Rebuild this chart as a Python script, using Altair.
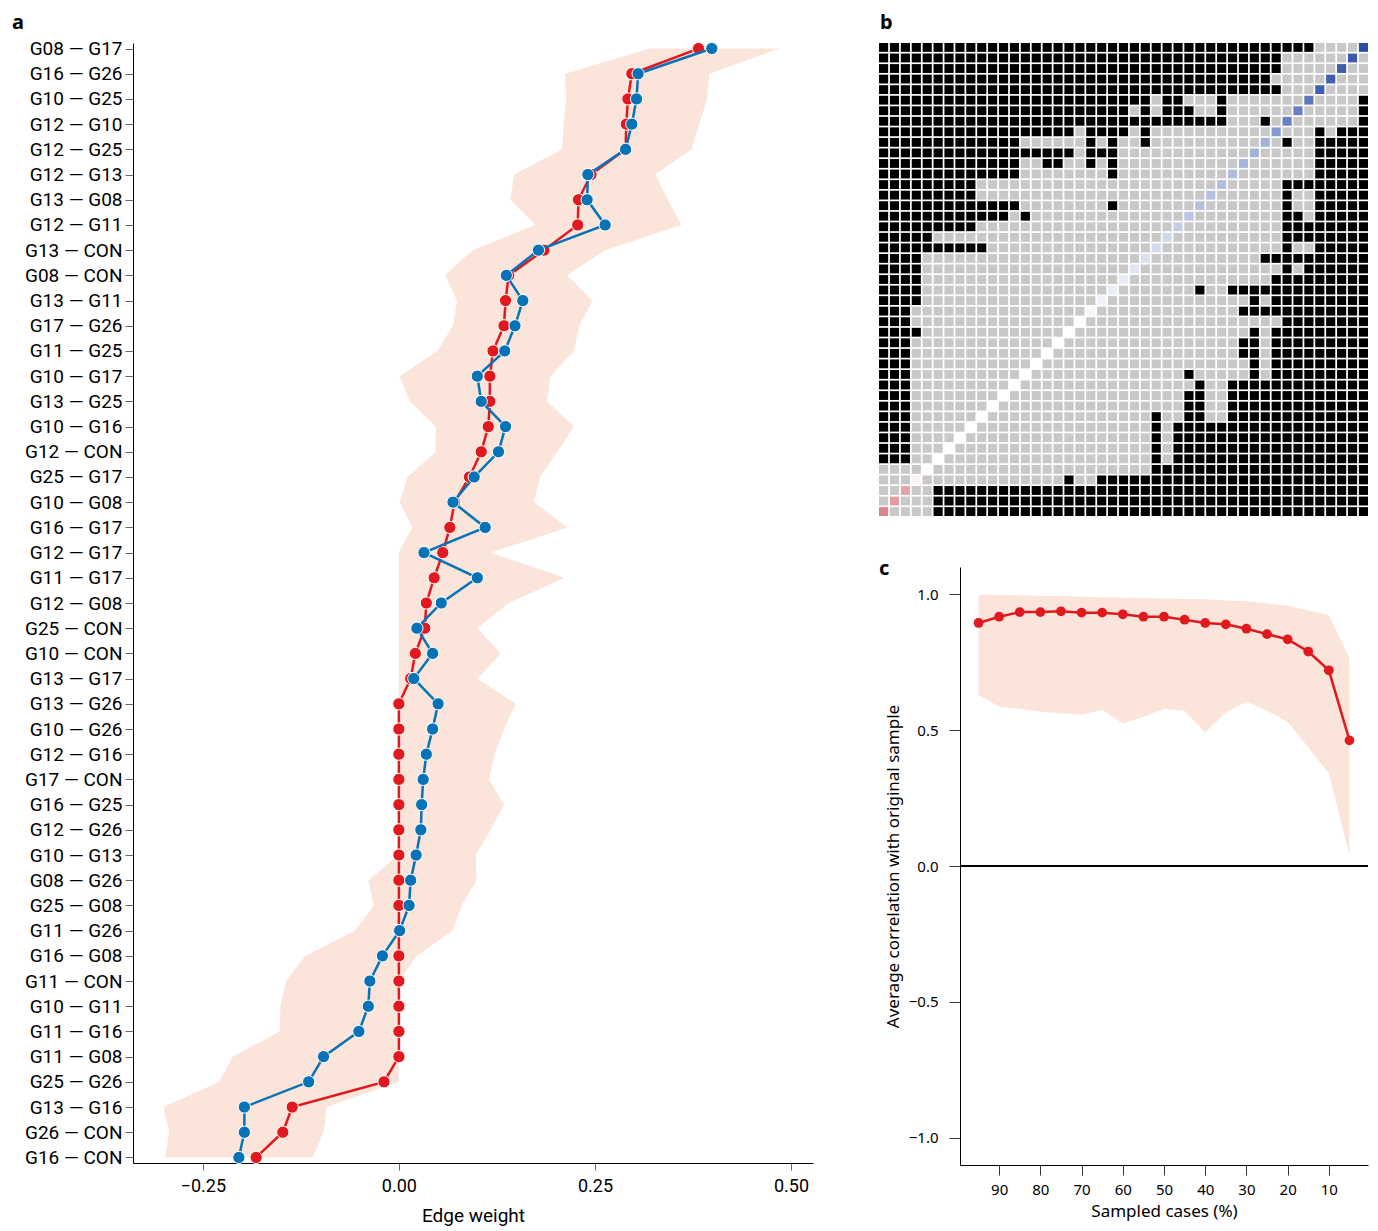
import altair as alt
import pandas as pd

# ---------------- panel a data (top to bottom) ----------------
edges = ["G08 — G17", "G16 — G26", "G10 — G25", "G12 — G10", "G12 — G25", "G12 — G13",
         "G13 — G08", "G12 — G11", "G13 — CON", "G08 — CON", "G13 — G11", "G17 — G26",
         "G11 — G25", "G10 — G17", "G13 — G25", "G10 — G16", "G12 — CON", "G25 — G17",
         "G10 — G08", "G16 — G17", "G12 — G17", "G11 — G17", "G12 — G08", "G25 — CON",
         "G10 — CON", "G13 — G17", "G13 — G26", "G10 — G26", "G12 — G16", "G17 — CON",
         "G16 — G25", "G12 — G26", "G10 — G13", "G08 — G26", "G25 — G08", "G11 — G26",
         "G16 — G08", "G11 — CON", "G10 — G11", "G11 — G16", "G11 — G08", "G25 — G26",
         "G13 — G16", "G26 — CON", "G16 — CON"]

sample = [0.382, 0.297, 0.292, 0.290, 0.289, 0.245, 0.229, 0.228, 0.185, 0.140,
          0.136, 0.134, 0.120, 0.116, 0.116, 0.114, 0.105, 0.090, 0.071, 0.065,
          0.056, 0.045, 0.035, 0.033, 0.021, 0.015, 0.0, 0.0, 0.0, 0.0,
          0.0, 0.0, 0.0, 0.0, 0.0, 0.0, 0.0, 0.0, 0.0, 0.0,
          0.0, -0.019, -0.136, -0.148, -0.182]

boot_mean = [0.399, 0.305, 0.303, 0.297, 0.289, 0.241, 0.240, 0.263, 0.178, 0.137,
             0.158, 0.148, 0.135, 0.100, 0.105, 0.136, 0.127, 0.096, 0.069, 0.110,
             0.032, 0.100, 0.054, 0.023, 0.043, 0.019, 0.050, 0.043, 0.035, 0.031,
             0.029, 0.028, 0.022, 0.015, 0.013, 0.001, -0.021, -0.037, -0.039, -0.051,
             -0.096, -0.115, -0.197, -0.197, -0.204]

ci_low = [0.320, 0.212, 0.213, 0.210, 0.208, 0.147, 0.142, 0.174, 0.094, 0.059,
          0.074, 0.069, 0.049, 0.001, 0.014, 0.047, 0.047, 0.011, 0.001, 0.017,
          0.0, 0.0, 0.0, 0.0, 0.0, 0.0, 0.0, 0.0, 0.0, 0.0,
          0.0, 0.0, 0.0, -0.039, -0.032, -0.056, -0.119, -0.144, -0.151, -0.152,
          -0.212, -0.229, -0.300, -0.293, -0.298]

ci_high = [0.485, 0.396, 0.393, 0.383, 0.373, 0.327, 0.343, 0.360, 0.263, 0.214,
           0.247, 0.230, 0.223, 0.193, 0.189, 0.223, 0.202, 0.180, 0.172, 0.215,
           0.117, 0.211, 0.140, 0.100, 0.130, 0.100, 0.149, 0.134, 0.122, 0.115,
           0.134, 0.117, 0.098, 0.099, 0.080, 0.068, 0.023, 0.0, 0.0, 0.0,
           0.0, 0.0, -0.092, -0.096, -0.110]

# ---------------- panel b data ----------------
# significance of difference, row r (top = first edge) over the columns left of the diagonal
# ("1" = significantly different / black, "0" = not different / grey)
sig_rows = [
    "1" * 40 + "0" * 4,
    "1" * 37 + "0" * 6,
    "1" * 37 + "0" * 5,
    "1" * 36 + "0" * 5,
    "1" * 37 + "0" * 3,
    "1" * 25 + "0" + "11" + "000" + "1" + "0" * 7,
    "1" * 23 + "0" + "1" + "0" + "111" + "00" + "1" + "0" * 6,
    "1" * 32 + "000" + "1" + "0",
    "1" * 18 + "0" + "1111" + "0" + "1" + "0" * 11,
    "1" * 13 + "0" * 6 + "1" + "0" + "1" + "00" + "1" + "0" * 10,
    "1" * 18 + "0" + "111" + "0" * 12,
    "1" * 13 + "00" + "11" + "00" + "1" + "0" + "1" + "0" * 11,
    "1" * 13 + "0" * 8 + "1" + "0" * 10,
    "1" * 9 + "0" * 22,
    "1" * 9 + "0" * 21,
    "1" * 13 + "0" * 8 + "1" + "0" * 7,
    "1" * 12 + "0" + "1" + "0" * 14,
    "1" * 9 + "0" * 18,
    "1" * 5 + "0" * 21,
    "1" * 10 + "0" * 15,
    "1" * 4 + "0" * 20,
    "1" * 4 + "0" * 19,
    "1" * 4 + "0" * 18,
    "1" * 4 + "0" * 17,
    "1" * 4 + "0" * 16,
    "1" * 3 + "0" * 16,
    "1" * 3 + "0" * 15,
    "1" * 4 + "0" * 13,
    "111" + "0" * 13,
    "111" + "0" * 12,
    "111" + "0" * 11,
    "111" + "0" * 10,
    "111" + "0" * 9,
    "111" + "0" * 8,
    "111" + "0" * 7,
    "111" + "0" * 6,
    "111" + "0" * 5,
    "111" + "0" * 4,
    "111" + "0" * 3,
    "111" + "0" * 2,
    "0000",
    "000",
    "00",
    "0",
    "",
]

# ---------------- panel c data ----------------
sampled = [95, 90, 85, 80, 75, 70, 65, 60, 55, 50, 45, 40, 35, 30, 25, 20, 15, 10, 5]
cor_mean = [0.894, 0.917, 0.934, 0.934, 0.937, 0.932, 0.932, 0.926, 0.917, 0.917,
            0.906, 0.894, 0.889, 0.873, 0.853, 0.834, 0.789, 0.720, 0.462]
cor_low = [0.629, 0.586, 0.578, 0.568, 0.562, 0.556, 0.575, 0.524, 0.548, 0.578,
           0.571, 0.491, 0.565, 0.604, 0.571, 0.531, 0.437, 0.340, 0.040]
cor_high = [0.999, 0.997, 0.996, 0.994, 0.993, 0.991, 0.989, 0.987, 0.985, 0.984,
            0.982, 0.981, 0.977, 0.974, 0.966, 0.958, 0.940, 0.923, 0.763]

panel_letters = ["a", "b", "c"]

# ---------------- styling ----------------
FA = "Roboto, sans-serif"
FC = "Noto Sans, Open Sans, sans-serif"
RED = "#e1191f"
BLUE = "#0772b6"
BAND = "#fbe4da"
N = len(edges)


def letter(ch, dx, dy):
    return alt.Chart(pd.DataFrame({"t": [ch]})).mark_text(
        font=FC, fontSize=20, fontWeight="bold", align="left", baseline="alphabetic",
        color="black").encode(text="t:N", x=alt.value(dx), y=alt.value(dy))


# ---------------- panel a ----------------
df_a = pd.DataFrame({"pos": list(range(N)), "edge": edges, "sample": sample,
                     "boot": boot_mean, "lo": ci_low, "hi": ci_high})
xs_a = alt.Scale(domain=[-0.339, 0.528], nice=False, zero=False)
ys_a = alt.Scale(type="point", padding=0.22)
y_axis_a = alt.Axis(title=None, labelFont=FA, labelFontSize=19, tickSize=8, labelPadding=3,
                    labelOverlap=False, tickColor="#666666", domainColor="black", grid=False,
                    labelColor="black")
x_axis_a = alt.Axis(values=[-0.25, 0, 0.25, 0.5], format=".2f", title="Edge weight",
                    titleFont=FA, titleFontSize=19, titleFontWeight="normal", labelFont=FA,
                    labelFontSize=18, tickSize=7, labelPadding=7, titlePadding=11, grid=False,
                    tickColor="#666666", domainColor="black", labelColor="black")

base_a = alt.Chart(df_a)
band_a = base_a.mark_area(color=BAND, orient="horizontal").encode(
    y=alt.Y("edge:O", sort=edges, scale=ys_a, axis=y_axis_a),
    x=alt.X("lo:Q", scale=xs_a, axis=x_axis_a),
    x2="hi:Q")
red_line = base_a.mark_line(color=RED, strokeWidth=2.5).encode(
    y=alt.Y("edge:O", sort=edges, title=None), x=alt.X("sample:Q", title="Edge weight"),
    order="pos:Q")
red_pts = base_a.mark_circle(color=RED, size=150, opacity=1, stroke="white", strokeWidth=1).encode(
    y=alt.Y("edge:O", sort=edges, title=None), x=alt.X("sample:Q", title="Edge weight"))
blue_line = base_a.mark_line(color=BLUE, strokeWidth=2.5).encode(
    y=alt.Y("edge:O", sort=edges, title=None), x=alt.X("boot:Q", title="Edge weight"),
    order="pos:Q")
blue_pts = base_a.mark_circle(color=BLUE, size=150, opacity=1, stroke="white", strokeWidth=1).encode(
    y=alt.Y("edge:O", sort=edges, title=None), x=alt.X("boot:Q", title="Edge weight"))

panel_a = alt.layer(band_a, red_line, red_pts, blue_line, blue_pts,
                    letter(panel_letters[0], -121, -14)).properties(width=680, height=1120)

# ---------------- panel b ----------------
cells = []
for r in range(N):
    for c in range(N):
        if r + c == N - 1:
            continue
        if r + c < N - 1:
            v = sig_rows[r][c]
        else:
            v = sig_rows[N - 1 - c][N - 1 - r]
        cells.append({"row": r, "col": c, "sig": "different" if v == "1" else "not different"})
df_cells = pd.DataFrame(cells)
df_diag = pd.DataFrame({"row": list(range(N)), "col": [N - 1 - r for r in range(N)], "w": sample})

xs_b = alt.Scale(domain=list(range(N)), paddingInner=0.16, paddingOuter=0)
ys_b = alt.Scale(domain=list(range(N)), paddingInner=0.16, paddingOuter=0)
rect_cells = alt.Chart(df_cells).mark_rect().encode(
    x=alt.X("col:O", scale=xs_b, axis=None),
    y=alt.Y("row:O", scale=ys_b, axis=None),
    color=alt.Color("sig:N", scale=alt.Scale(domain=["different", "not different"],
                                             range=["#000000", "#c8c8c8"]), legend=None))
rect_diag = alt.Chart(df_diag).mark_rect().encode(
    x=alt.X("col:O", scale=xs_b, axis=None),
    y=alt.Y("row:O", scale=ys_b, axis=None),
    color=alt.Color("w:Q", scale=alt.Scale(domain=[-0.32, 0, 0.32],
                                           range=["#c0282d", "#ffffff", "#2b4ea6"],
                                           interpolate="rgb", clamp=True), legend=None))
panel_b = alt.layer(rect_cells, rect_diag, letter(panel_letters[1], 1, -14)).resolve_scale(
    color="independent").properties(width=489, height=473)

# ---------------- panel c ----------------
df_c = pd.DataFrame({"pct": sampled, "mean": cor_mean, "lo": cor_low, "hi": cor_high})
xs_c = alt.Scale(domain=[0.5, 99.5], reverse=True, nice=False, zero=False)
ys_c = alt.Scale(domain=[-1.1, 1.1], nice=False, zero=False)
x_axis_c = alt.Axis(values=[90, 80, 70, 60, 50, 40, 30, 20, 10], title="Sampled cases (%)",
                    titleFont=FC, titleFontSize=17, titleFontWeight="normal", labelFont=FC,
                    labelFontSize=15, tickSize=10, labelPadding=7, titlePadding=6, grid=False,
                    tickColor="#333333", domainColor="black", labelColor="black")
y_axis_c = alt.Axis(values=[-1.0, -0.5, 0.0, 0.5, 1.0], format=".1f",
                    title="Average correlation with original sample",
                    titleFont=FC, titleFontSize=17, titleFontWeight="normal", labelFont=FC,
                    labelFontSize=15, tickSize=11, labelPadding=11, titlePadding=6, grid=False,
                    tickColor="#333333", domainColor="black", labelColor="black")
base_c = alt.Chart(df_c)
band_c = base_c.mark_area(color=BAND).encode(
    x=alt.X("pct:Q", scale=xs_c, axis=x_axis_c),
    y=alt.Y("lo:Q", scale=ys_c, axis=y_axis_c), y2="hi:Q")
zero_c = base_c.mark_rule(color="black", strokeWidth=1).encode(y=alt.datum(0))
line_c = base_c.mark_line(color=RED, strokeWidth=2.5).encode(
    x=alt.X("pct:Q", title="Sampled cases (%)"),
    y=alt.Y("mean:Q", title="Average correlation with original sample"))
pts_c = base_c.mark_circle(color=RED, size=95, opacity=1).encode(
    x=alt.X("pct:Q", title="Sampled cases (%)"),
    y=alt.Y("mean:Q", title="Average correlation with original sample"))
panel_c = alt.layer(band_c, zero_c, line_c, pts_c,
                    letter(panel_letters[2], -81, 8)).properties(width=408, height=598)

spacer = alt.Chart(pd.DataFrame({"v": [0]})).mark_point(opacity=0).properties(width=1, height=598)

bottom_right = alt.hconcat(spacer, panel_c, spacing=80, bounds="flush")
right = alt.vconcat(panel_b, bottom_right, spacing=51, bounds="flush")

chart = alt.hconcat(panel_a, right, spacing=66, bounds="flush").properties(
    padding={"left": 4, "top": 5, "right": 0, "bottom": 2}
).configure_view(stroke=None)

chart.save("out.html", embed_options={"renderer": "svg", "actions": False})
